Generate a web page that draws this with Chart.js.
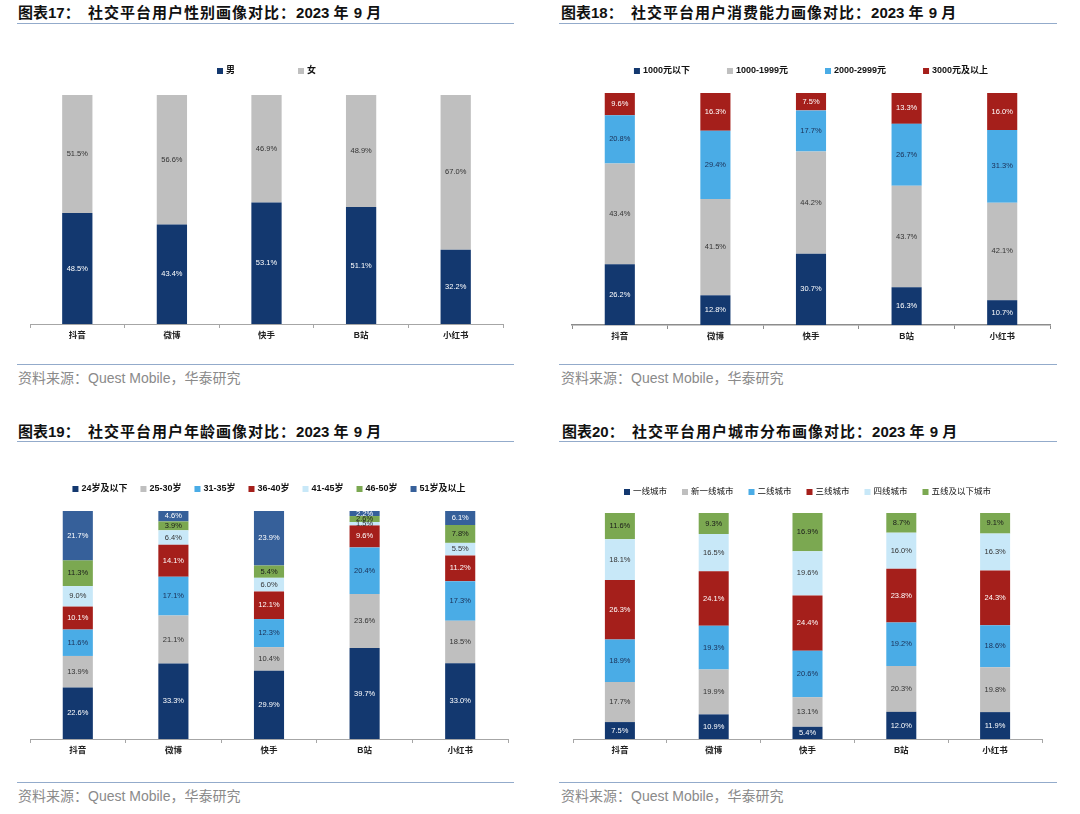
<!DOCTYPE html>
<html lang="zh-CN">
<head>
<meta charset="utf-8">
<title>社交平台用户画像对比</title>
<script src="https://cdn.jsdelivr.net/npm/chart.js@4.4.0/dist/chart.umd.min.js"></script>
<style>
  html, body { margin: 0; padding: 0; background: #fff; }
  body {
    width: 1080px; height: 814px; position: relative; overflow: hidden;
    font-family: "Liberation Sans", Arial, "Noto Sans CJK SC", sans-serif;
  }
  .title { position: absolute; font-size: 15px; line-height: 20px; font-weight: bold; color: #111; white-space: nowrap; }
  .title .cn { letter-spacing: 1px; }
  .rule { position: absolute; height: 0; border-top: 1.5px solid #93abcb; }
  .source { position: absolute; font-size: 14px; line-height: 20px; color: #8a8a8a; white-space: nowrap; }
  canvas { position: absolute; }
</style>
</head>
<body>

<div class="title" style="left:18px; top:3px;">图表17：&nbsp;&nbsp;<span class="cn">社交平台用户性别画像对比：</span>2023 <span class="cn">年</span> 9 <span class="cn">月</span></div>
<div class="rule" style="left:17px; top:23px; width:497px;"></div>
<canvas id="genderChart" width="540" height="314" style="left:0; top:40px;"></canvas>
<div class="rule" style="left:17px; top:364px; width:497px;"></div>
<div class="source" style="left:18px; top:368px;">资料来源：Quest Mobile，华泰研究</div>

<div class="title" style="left:561px; top:3px;">图表18：&nbsp;&nbsp;<span class="cn">社交平台用户消费能力画像对比：</span>2023 <span class="cn">年</span> 9 <span class="cn">月</span></div>
<div class="rule" style="left:559px; top:23px; width:498px;"></div>
<canvas id="spendChart" width="540" height="315" style="left:540px; top:40px;"></canvas>
<div class="rule" style="left:559px; top:364px; width:498px;"></div>
<div class="source" style="left:561px; top:368px;">资料来源：Quest Mobile，华泰研究</div>

<div class="title" style="left:18px; top:422px;">图表19：&nbsp;&nbsp;<span class="cn">社交平台用户年龄画像对比：</span>2023 <span class="cn">年</span> 9 <span class="cn">月</span></div>
<div class="rule" style="left:17px; top:441px; width:497px;"></div>
<canvas id="ageChart" width="540" height="309" style="left:0; top:460px;"></canvas>
<div class="rule" style="left:17px; top:782px; width:497px;"></div>
<div class="source" style="left:18px; top:786px;">资料来源：Quest Mobile，华泰研究</div>

<div class="title" style="left:562px; top:422px;">图表20：&nbsp;&nbsp;<span class="cn">社交平台用户城市分布画像对比：</span>2023 <span class="cn">年</span> 9 <span class="cn">月</span></div>
<div class="rule" style="left:559px; top:441px; width:498px;"></div>
<canvas id="cityChart" width="540" height="309" style="left:540px; top:460px;"></canvas>
<div class="rule" style="left:559px; top:782px; width:498px;"></div>
<div class="source" style="left:561px; top:786px;">资料来源：Quest Mobile，华泰研究</div>

<script>
// 平台（横轴）
const platforms = ["抖音", "微博", "快手", "B站", "小红书"];

// 图表17：性别
const genderNames = ["男", "女"];
const genderMale = [48.5, 43.4, 53.1, 51.1, 32.2];
const genderFemale = [51.5, 56.6, 46.9, 48.9, 67.0];

// 图表18：消费能力
const spendNames = ["1000元以下", "1000-1999元", "2000-2999元", "3000元及以上"];
const spendUnder1000 = [26.2, 12.8, 30.7, 16.3, 10.7];
const spend1000to1999 = [43.4, 41.5, 44.2, 43.7, 42.1];
const spend2000to2999 = [20.8, 29.4, 17.7, 26.7, 31.3];
const spend3000plus = [9.6, 16.3, 7.5, 13.3, 16.0];

// 图表19：年龄
const ageNames = ["24岁及以下", "25-30岁", "31-35岁", "36-40岁", "41-45岁", "46-50岁", "51岁及以上"];
const age24under = [22.6, 33.3, 29.9, 39.7, 33.0];
const age25to30 = [13.9, 21.1, 10.4, 23.6, 18.5];
const age31to35 = [11.6, 17.1, 12.3, 20.4, 17.3];
const age36to40 = [10.1, 14.1, 12.1, 9.6, 11.2];
const age41to45 = [9.0, 6.4, 6.0, 1.5, 5.5];
const age46to50 = [11.3, 3.9, 5.4, 2.6, 7.8];
const age51plus = [21.7, 4.6, 23.9, 2.2, 6.1];

// 图表20：城市分布
const cityNames = ["一线城市", "新一线城市", "二线城市", "三线城市", "四线城市", "五线及以下城市"];
const cityTier1 = [7.5, 10.9, 5.4, 12.0, 11.9];
const cityNewTier1 = [17.7, 19.9, 13.1, 20.3, 19.8];
const cityTier2 = [18.9, 19.3, 20.6, 19.2, 18.6];
const cityTier3 = [26.3, 24.1, 24.4, 23.8, 24.3];
const cityTier4 = [18.1, 16.5, 19.6, 16.0, 16.3];
const cityTier5 = [11.6, 9.3, 16.9, 8.7, 9.1];

// 颜色
const NAVY = "#13386f";
const GRAY = "#bfbfbf";
const BLUE = "#4aace6";
const RED = "#a51f1b";
const PALE = "#c8e8f8";
const GREEN = "#7ba851";
const STEEL = "#36609a";

const FONT = "'Liberation Sans', Arial, 'Noto Sans CJK SC', sans-serif";

// 段内数值标签
const segLabels = {
  id: "segLabels",
  afterDatasetsDraw(chart) {
    const { ctx } = chart;
    ctx.save();
    ctx.font = "7.5px " + FONT;
    ctx.textAlign = "center";
    ctx.textBaseline = "middle";
    chart.data.datasets.forEach((ds, i) => {
      const meta = chart.getDatasetMeta(i);
      meta.data.forEach((bar, j) => {
        ctx.fillStyle = ds.labelColor;
        ctx.fillText(ds.raw[j].toFixed(1) + "%", bar.x, (bar.y + bar.base) / 2);
      });
    });
    ctx.restore();
  },
};

// 一行图例，居中于绘图区
const legendRow = {
  id: "legendRow",
  afterDraw(chart, args, opts) {
    const { ctx, chartArea } = chart;
    ctx.save();
    ctx.font = opts.font;
    ctx.textBaseline = "middle";
    const items = chart.data.datasets.map((ds) => ({
      text: ds.label,
      color: ds.backgroundColor,
      w: 9 + ctx.measureText(ds.label).width,
    }));
    const total = items.reduce((s, it) => s + it.w, 0) + opts.gap * (items.length - 1);
    let x = (chartArea.left + chartArea.right) / 2 - total / 2;
    items.forEach((it) => {
      ctx.fillStyle = it.color;
      ctx.fillRect(x, opts.y - 3, 6, 6);
      ctx.fillStyle = "#111";
      ctx.fillText(it.text, x + 9, opts.y);
      x += it.w + opts.gap;
    });
    ctx.restore();
  },
};

/**
 * 百分比堆叠柱状图：每根柱按合计归一到 100（同 Excel 百分比堆叠），标签显示原值。
 */
function renderStacked(canvasId, names, series, colors, labelColors, layout) {
  const totals = platforms.map((_, j) => series.reduce((s, arr) => s + arr[j], 0));
  const datasets = series.map((arr, i) => ({
    label: names[i],
    data: arr.map((v, j) => (v / totals[j]) * 100),
    raw: arr,
    backgroundColor: colors[i],
    labelColor: labelColors[i],
    borderWidth: 0,
    barPercentage: 1,
    categoryPercentage: layout.barPct,
  }));

  return new Chart(document.getElementById(canvasId), {
    type: "bar",
    data: { labels: platforms, datasets },
    options: {
      responsive: false,
      animation: false,
      layout: { padding: layout.padding },
      plugins: {
        legend: { display: false },
        tooltip: { enabled: false },
        legendRow: { y: layout.legendY, gap: layout.legendGap, font: layout.legendFont },
      },
      scales: {
        x: {
          stacked: true,
          grid: { drawOnChartArea: false, drawTicks: true, tickLength: 4, color: layout.axisColor, offset: true },
          border: { color: layout.axisColor, width: layout.axisWidth },
          ticks: { color: "#222", padding: 3, font: { size: 8.5, family: FONT, weight: "bold" } },
          afterFit: (scale) => { scale.height = 30; },
        },
        y: { stacked: true, display: false, min: 0, max: 100 },
      },
    },
    plugins: [segLabels, legendRow],
  });
}

renderStacked(
  "genderChart",
  genderNames,
  [genderMale, genderFemale],
  [NAVY, GRAY],
  ["#fff", "#333"],
  { padding: { top: 55, left: 30, right: 37, bottom: 0 }, barPct: 0.32,
    legendY: 31, legendGap: 63, legendFont: "bold 9px " + FONT,
    axisColor: "#a6a6a6", axisWidth: 1 }
);

renderStacked(
  "spendChart",
  spendNames,
  [spendUnder1000, spend1000to1999, spend2000to2999, spend3000plus],
  [NAVY, GRAY, BLUE, RED],
  ["#fff", "#333", "#1b2f55", "#fff"],
  { padding: { top: 53, left: 32, right: 30, bottom: 0 }, barPct: 0.315,
    legendY: 31, legendGap: 37, legendFont: "bold 9px " + FONT,
    axisColor: "#8c8c8c", axisWidth: 1.5 }
);

renderStacked(
  "ageChart",
  ageNames,
  [age24under, age25to30, age31to35, age36to40, age41to45, age46to50, age51plus],
  [NAVY, GRAY, BLUE, RED, PALE, GREEN, STEEL],
  ["#fff", "#333", "#1b2f55", "#fff", "#333", "#1a1a1a", "#fff"],
  { padding: { top: 51, left: 30, right: 32, bottom: 0 }, barPct: 0.315,
    legendY: 29, legendGap: 13, legendFont: "bold 9px " + FONT,
    axisColor: "#a6a6a6", axisWidth: 1 }
);

renderStacked(
  "cityChart",
  cityNames,
  [cityTier1, cityNewTier1, cityTier2, cityTier3, cityTier4, cityTier5],
  [NAVY, GRAY, BLUE, RED, PALE, GREEN],
  ["#fff", "#333", "#1b2f55", "#fff", "#333", "#1a1a1a"],
  { padding: { top: 53, left: 33, right: 38, bottom: 0 }, barPct: 0.32,
    legendY: 32, legendGap: 15, legendFont: "8.5px " + FONT,
    axisColor: "#a6a6a6", axisWidth: 1 }
);
</script>
</body>
</html>
